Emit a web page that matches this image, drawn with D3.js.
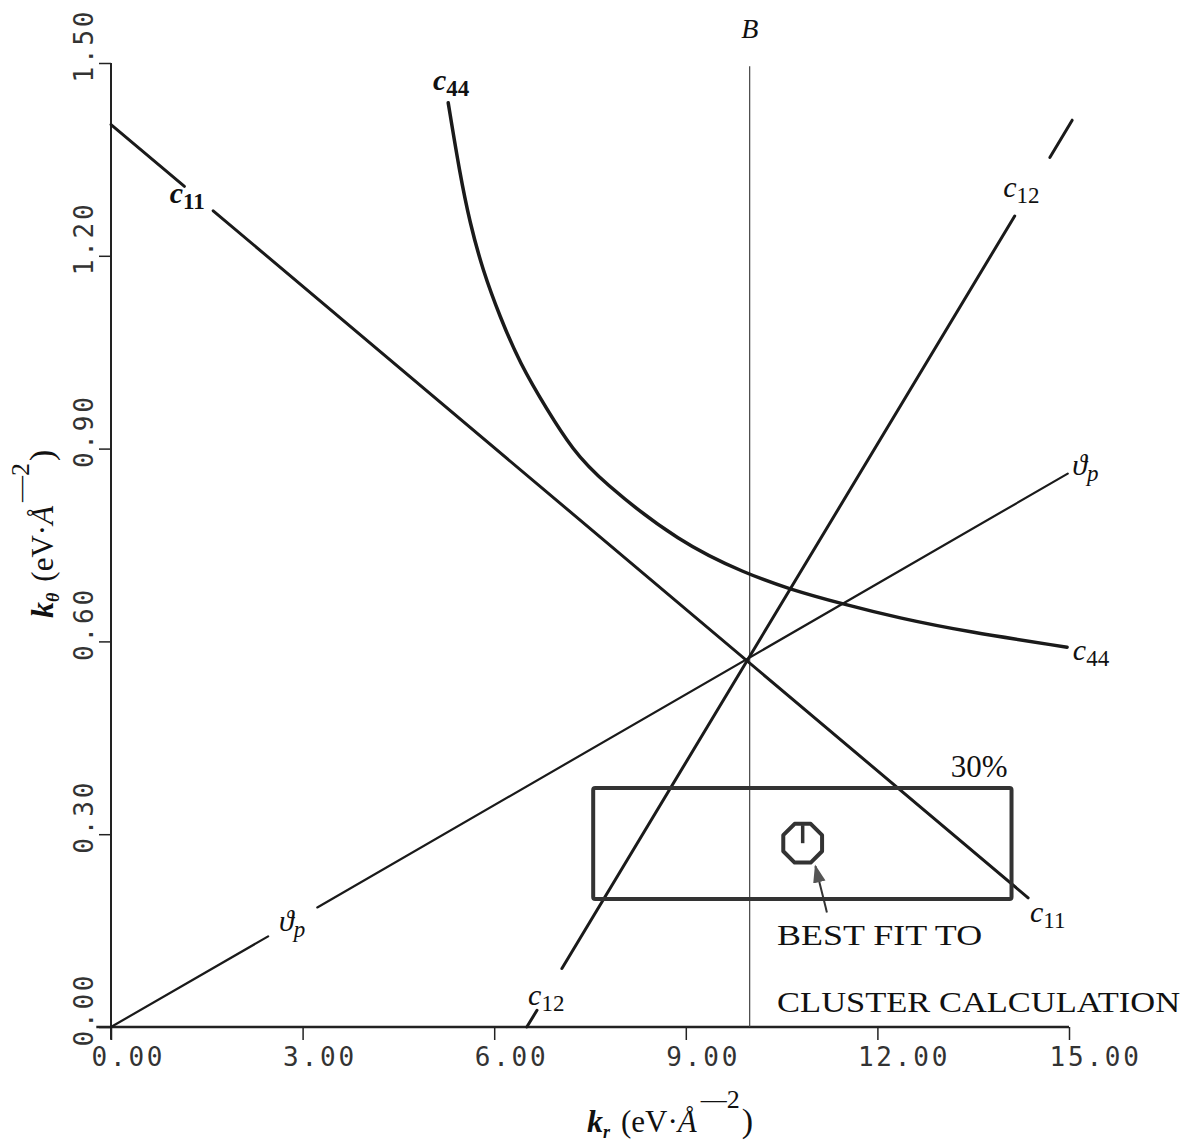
<!DOCTYPE html>
<html>
<head>
<meta charset="utf-8">
<script src="https://cdn.jsdelivr.net/npm/d3@7"></script>
<style>
  body { margin: 0; background: #fff; }
  svg { display: block; }
  .tick text { font-family: "DejaVu Sans Mono", monospace; fill: #333; }
  .serif { font-family: "Liberation Serif", "Times New Roman", serif; fill: #111; }
</style>
</head>
<body>
<div id="viz"></div>
<script>
var width = 1185,
    height = 1143;

// axis ticks
var xTicks = [0, 3, 6, 9, 12, 15];
var yTicks = [0, 0.30, 0.60, 0.90, 1.20, 1.50];

// straight lines, split where a label sits on them
var c11 = [[[0, 1.404], [1.15, 1.308]],
           [[1.6, 1.270], [14.36, 0.201]]];
var c12 = [[[6.51, 0.0], [6.67, 0.026]],
           [[7.06, 0.091], [14.15, 1.262]],
           [[14.70, 1.353], [15.05, 1.411]]];
var thetaP = [[[0, 0], [2.46, 0.141]],
              [[3.23, 0.186], [14.98, 0.861]]];

// c44 curve
var c44 = [[5.28, 1.438], [5.46, 1.329], [5.62, 1.251], [5.82, 1.178], [6.09, 1.105],
           [6.40, 1.033], [6.83, 0.960], [7.23, 0.898], [7.66, 0.851], [8.91, 0.753],
           [9.96, 0.705], [10.60, 0.682], [11.46, 0.658], [12.35, 0.636], [13.40, 0.615],
           [14.97, 0.591]];

var lineB = 10.0;                       // vertical line "B"
var fitBox = {x0: 7.55, x1: 14.1, y0: 0.199, y1: 0.372};
var bestFit = [10.83, 0.286];
var arrowFrom = [11.21, 0.178], arrowTo = [11.03, 0.250];

var x = d3.scaleLinear().domain([0, 15]).range([111, 1069]);
var y = d3.scaleLinear().domain([0, 1.5]).range([1027, 63]);

var svg = d3.select("div#viz")
    .append("svg")
    .attr("width", width)
    .attr("height", height);

svg.append("defs").append("marker")
    .attr("id", "arrow")
    .attr("viewBox", "0 -5 10 10")
    .attr("refX", 9)
    .attr("refY", 0)
    .attr("markerWidth", 9)
    .attr("markerHeight", 9)
    .attr("markerUnits", "strokeWidth")
    .attr("orient", "auto")
    .append("path")
    .attr("d", "M0,-3.5L10,0L0,3.5Z")
    .attr("fill", "#555");

// axes
var yAxis = svg.append("g")
    .attr("transform", "translate(" + x(0) + ",0)")
    .call(d3.axisLeft(y).tickValues(yTicks).tickSize(12).tickSizeOuter(0)
        .tickFormat(d3.format(".2f")));
yAxis.select(".domain").remove();
yAxis.selectAll(".tick line").attr("stroke", "#222").attr("stroke-width", 1.5);
yAxis.selectAll(".tick text")
    .attr("x", null).attr("dy", null)
    .attr("text-anchor", "start")
    .attr("font-size", 26)
    .attr("letter-spacing", 2.8)
    .attr("transform", "translate(-18,19) rotate(-90)");

var xAxis = svg.append("g")
    .attr("transform", "translate(0," + y(0) + ")")
    .call(d3.axisBottom(x).tickValues(xTicks).tickSize(13).tickSizeOuter(0)
        .tickFormat(d3.format(".2f")));
xAxis.select(".domain").remove();
xAxis.selectAll(".tick line").attr("stroke", "#222").attr("stroke-width", 1.5);
xAxis.selectAll(".tick text")
    .attr("dy", null)
    .attr("x", -20)
    .attr("y", 39)
    .attr("text-anchor", "start")
    .attr("font-size", 26)
    .attr("letter-spacing", 2.8);

// axis lines (a bit past the origin like the plotter did)
svg.append("line")
    .attr("x1", x(0)).attr("x2", x(0))
    .attr("y1", y(1.5)).attr("y2", y(-0.02))
    .attr("stroke", "#222").attr("stroke-width", 2);
svg.append("line")
    .attr("x1", x(-0.23)).attr("x2", x(15))
    .attr("y1", y(0)).attr("y2", y(0))
    .attr("stroke", "#222").attr("stroke-width", 2.5);

// vertical line B
svg.append("line")
    .attr("x1", x(lineB)).attr("x2", x(lineB))
    .attr("y1", y(1.495)).attr("y2", y(0))
    .attr("stroke", "#444").attr("stroke-width", 1.2);

var line = d3.line()
    .x(function(d) { return x(d[0]); })
    .y(function(d) { return y(d[1]); });

function drawSegments(segs, w) {
    svg.append("g").selectAll("path")
        .data(segs)
        .enter().append("path")
        .attr("d", line)
        .attr("fill", "none")
        .attr("stroke", "#1a1a1a")
        .attr("stroke-width", w)
        .attr("stroke-linecap", "round");
}
drawSegments(c11, 3);
drawSegments(c12, 3);
drawSegments(thetaP, 2.2);

svg.append("path")
    .datum(c44)
    .attr("d", d3.line()
        .x(function(d) { return x(d[0]); })
        .y(function(d) { return y(d[1]); })
        .curve(d3.curveBasis))
    .attr("fill", "none")
    .attr("stroke", "#1a1a1a")
    .attr("stroke-width", 3.5)
    .attr("stroke-linecap", "round");

// fit box
svg.append("rect")
    .attr("x", x(fitBox.x0))
    .attr("y", y(fitBox.y1))
    .attr("width", x(fitBox.x1) - x(fitBox.x0))
    .attr("height", y(fitBox.y0) - y(fitBox.y1))
    .attr("rx", 2)
    .attr("fill", "none")
    .attr("stroke", "#333")
    .attr("stroke-width", 4);

// best fit octagon
var bx = x(bestFit[0]), by = y(bestFit[1]), r = 21;
var oct = d3.range(8).map(function(i) {
    var a = Math.PI / 8 + i * Math.PI / 4;
    return [bx + r * Math.cos(a), by + r * Math.sin(a)];
});
svg.append("path")
    .attr("d", "M" + oct.join("L") + "Z")
    .attr("fill", "none")
    .attr("stroke", "#333")
    .attr("stroke-width", 4)
    .attr("stroke-linejoin", "round");
svg.append("line")
    .attr("x1", bx).attr("x2", bx)
    .attr("y1", by - r + 3).attr("y2", by)
    .attr("stroke", "#333").attr("stroke-width", 3.5);

svg.append("line")
    .attr("x1", x(arrowFrom[0])).attr("y1", y(arrowFrom[1]))
    .attr("x2", x(arrowTo[0])).attr("y2", y(arrowTo[1]))
    .attr("stroke", "#333").attr("stroke-width", 2)
    .attr("marker-end", "url(#arrow)");

// curve labels: [text, sub, kr, ktheta, bold]
var labels = [
    ["c", "11", 0.92, 1.282, true],
    ["c", "11", 14.39, 0.163, false],
    ["c", "44", 5.04, 1.458, true],
    ["c", "44", 15.06, 0.571, false],
    ["c", "12", 13.97, 1.292, false],
    ["c", "12", 6.53, 0.034, false],
    ["\u03d1", "p", 2.63, 0.150, false],
    ["\u03d1", "p", 15.05, 0.859, false]
];

var lab = svg.append("g").selectAll("text")
    .data(labels)
    .enter().append("text")
    .attr("class", "serif")
    .attr("x", function(d) { return x(d[2]); })
    .attr("y", function(d) { return y(d[3]); })
    .attr("font-weight", function(d) { return d[4] ? "bold" : "normal"; });
lab.append("tspan")
    .attr("font-style", "italic")
    .attr("font-size", 30)
    .text(function(d) { return d[0]; });
lab.append("tspan")
    .attr("font-size", 23)
    .attr("dy", 6)
    .attr("font-style", function(d) { return d[1] == "p" ? "italic" : "normal"; })
    .text(function(d) { return d[1]; });

// B
svg.append("text")
    .attr("class", "serif")
    .attr("x", x(9.87)).attr("y", y(1.539))
    .attr("font-size", 28)
    .attr("font-style", "italic")
    .text("B");

svg.append("text")
    .attr("class", "serif")
    .attr("x", x(13.15)).attr("y", y(0.389))
    .attr("font-size", 31)
    .text("30%");

svg.append("text")
    .attr("class", "serif")
    .attr("x", x(10.43)).attr("y", y(0.127))
    .attr("font-size", 29)
    .attr("textLength", 205)
    .attr("lengthAdjust", "spacingAndGlyphs")
    .text("BEST FIT TO");

svg.append("text")
    .attr("class", "serif")
    .attr("x", x(10.43)).attr("y", y(0.023))
    .attr("font-size", 29)
    .attr("textLength", 403)
    .attr("lengthAdjust", "spacingAndGlyphs")
    .text("CLUSTER CALCULATION");

// axis titles
function axisTitle(g, sub) {
    g.append("tspan").attr("font-weight", "bold").attr("font-style", "italic")
        .attr("font-size", 32).text("k");
    g.append("tspan").attr("font-weight", "bold").attr("font-style", "italic")
        .attr("font-size", 18).attr("dy", 6).text(sub);
    g.append("tspan").attr("font-size", 31).attr("dy", -6).attr("dx", 11).text("(eV\u00b7");
    g.append("tspan").attr("font-size", 31).attr("font-style", "italic").text("\u00c5");
    g.append("tspan").attr("font-size", 26).attr("dy", -24).attr("dx", 4).text("\u2014");
    g.append("tspan").attr("font-size", 26).text("2");
    g.append("tspan").attr("font-size", 34).attr("dy", 24).attr("dx", 2).text(")");
}

svg.append("text")
    .attr("class", "serif")
    .attr("transform", "translate(53,618) rotate(-90)")
    .call(axisTitle, "\u03b8");

svg.append("text")
    .attr("class", "serif")
    .attr("transform", "translate(587,1132)")
    .call(axisTitle, "r");
</script>
</body>
</html>
